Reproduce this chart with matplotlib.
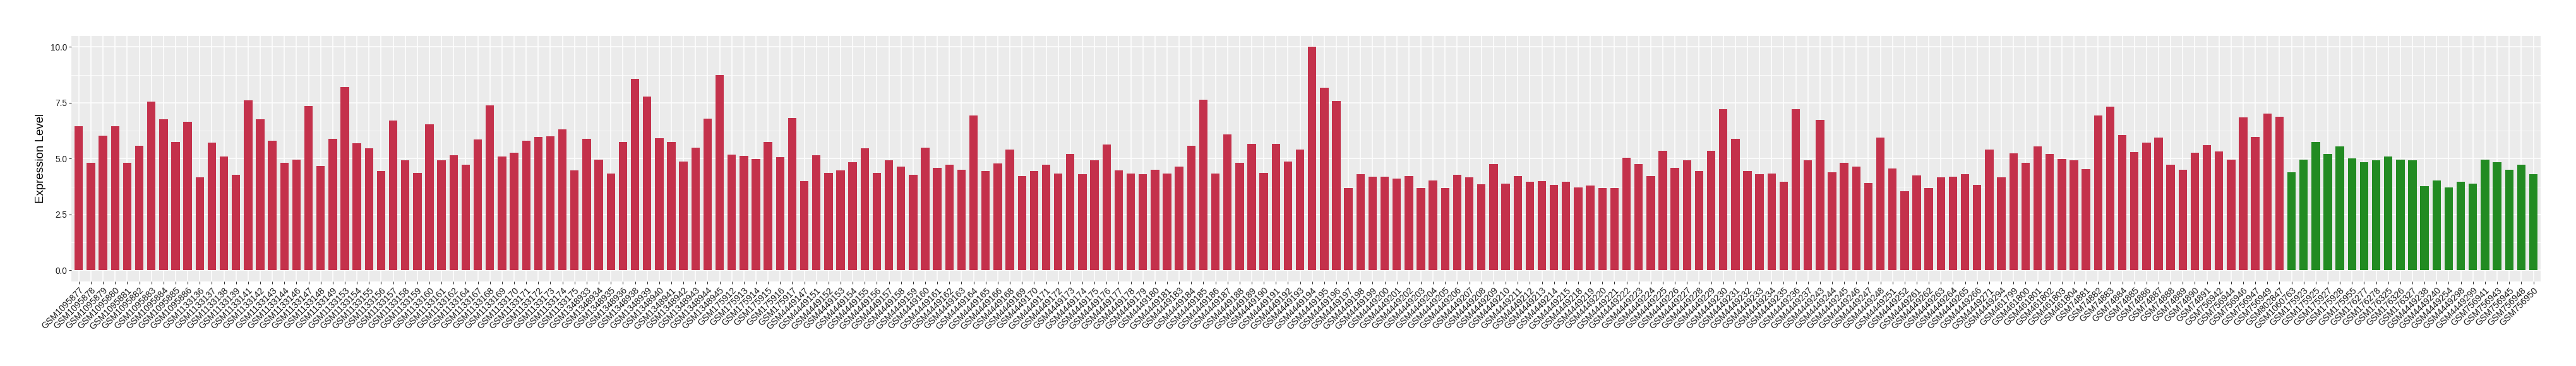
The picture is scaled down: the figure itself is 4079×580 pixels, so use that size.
import matplotlib
matplotlib.use("Agg")
import matplotlib.pyplot as plt
from matplotlib.ticker import FixedLocator

samples_tumor = [
    "GSM1095877", "GSM1095878", "GSM1095879", "GSM1095880", "GSM1095881", "GSM1095882",
    "GSM1095883", "GSM1095884", "GSM1095885", "GSM1095886", "GSM1133136", "GSM1133137",
    "GSM1133138", "GSM1133139", "GSM1133141", "GSM1133142", "GSM1133143", "GSM1133144",
    "GSM1133146", "GSM1133147", "GSM1133148", "GSM1133149", "GSM1133153", "GSM1133154",
    "GSM1133155", "GSM1133156", "GSM1133157", "GSM1133158", "GSM1133159", "GSM1133160",
    "GSM1133161", "GSM1133162", "GSM1133164", "GSM1133167", "GSM1133168", "GSM1133169",
    "GSM1133170", "GSM1133171", "GSM1133172", "GSM1133173", "GSM1133174", "GSM1133175",
    "GSM1348933", "GSM1348934", "GSM1348935", "GSM1348936", "GSM1348938", "GSM1348939",
    "GSM1348940", "GSM1348941", "GSM1348942", "GSM1348943", "GSM1348944", "GSM1348945",
    "GSM175912", "GSM175913", "GSM175914", "GSM175915", "GSM175916", "GSM175917",
    "GSM4449147", "GSM4449151", "GSM4449152", "GSM4449153", "GSM4449154", "GSM4449155",
    "GSM4449156", "GSM4449157", "GSM4449158", "GSM4449159", "GSM4449160", "GSM4449161",
    "GSM4449162", "GSM4449163", "GSM4449164", "GSM4449165", "GSM4449166", "GSM4449168",
    "GSM4449169", "GSM4449170", "GSM4449171", "GSM4449172", "GSM4449173", "GSM4449174",
    "GSM4449175", "GSM4449176", "GSM4449177", "GSM4449178", "GSM4449179", "GSM4449180",
    "GSM4449181", "GSM4449183", "GSM4449184", "GSM4449185", "GSM4449186", "GSM4449187",
    "GSM4449188", "GSM4449189", "GSM4449190", "GSM4449191", "GSM4449192", "GSM4449193",
    "GSM4449194", "GSM4449195", "GSM4449196", "GSM4449197", "GSM4449198", "GSM4449199",
    "GSM4449200", "GSM4449201", "GSM4449202", "GSM4449203", "GSM4449204", "GSM4449205",
    "GSM4449206", "GSM4449207", "GSM4449208", "GSM4449209", "GSM4449210", "GSM4449211",
    "GSM4449212", "GSM4449213", "GSM4449214", "GSM4449215", "GSM4449218", "GSM4449219",
    "GSM4449220", "GSM4449221", "GSM4449222", "GSM4449223", "GSM4449224", "GSM4449225",
    "GSM4449226", "GSM4449227", "GSM4449228", "GSM4449229", "GSM4449230", "GSM4449231",
    "GSM4449232", "GSM4449233", "GSM4449234", "GSM4449235", "GSM4449236", "GSM4449237",
    "GSM4449243", "GSM4449244", "GSM4449245", "GSM4449246", "GSM4449247", "GSM4449248",
    "GSM4449251", "GSM4449252", "GSM4449261", "GSM4449262", "GSM4449263", "GSM4449264",
    "GSM4449265", "GSM4449266", "GSM4449271", "GSM4449294", "GSM461799", "GSM461800",
    "GSM461801", "GSM461802", "GSM461803", "GSM461804", "GSM74881", "GSM74882",
    "GSM74883", "GSM74884", "GSM74885", "GSM74886", "GSM74887", "GSM74888",
    "GSM74889", "GSM74890", "GSM74891", "GSM756942", "GSM756944", "GSM756946",
    "GSM756947", "GSM756949", "GSM802847",
]

values_tumor = [
    6.45, 4.82, 6.03, 6.45, 4.82, 5.58, 7.55, 6.76, 5.75, 6.65, 4.15, 5.72,
    5.10, 4.28, 7.60, 6.76, 5.80, 4.82, 4.96, 7.35, 4.68, 5.89, 8.20, 5.69,
    5.47, 4.43, 6.71, 4.91, 4.36, 6.53, 4.91, 5.16, 4.73, 5.86, 7.39, 5.10,
    5.27, 5.80, 5.97, 6.00, 6.31, 4.48, 5.89, 4.96, 4.34, 5.75, 8.56, 7.77,
    5.92, 5.75, 4.88, 5.49, 6.79, 8.73, 5.19, 5.13, 4.99, 5.75, 5.07, 6.81,
    4.00, 5.16, 4.36, 4.48, 4.84, 5.47, 4.36, 4.91, 4.63, 4.28, 5.49, 4.59,
    4.73, 4.51, 6.93, 4.43, 4.79, 5.39, 4.23, 4.43, 4.73, 4.34, 5.21, 4.31,
    4.91, 5.64, 4.48, 4.34, 4.31, 4.51, 4.34, 4.63, 5.58, 7.64, 4.34, 6.08,
    4.82, 5.67, 4.36, 5.67, 4.88, 5.41, 10.00, 8.17, 7.57, 3.67, 4.31, 4.20,
    4.20, 4.11, 4.23, 3.67, 4.03, 3.69, 4.28, 4.15, 3.86, 4.76, 3.89, 4.23,
    3.97, 4.00, 3.83, 3.97, 3.72, 3.80, 3.69, 3.69, 5.04, 4.76, 4.23, 5.35,
    4.59, 4.91, 4.43, 5.35, 7.21, 5.89, 4.43, 4.31, 4.34, 3.97, 7.21, 4.93,
    6.73, 4.40, 4.82, 4.63, 3.92, 5.95, 4.56, 3.55, 4.25, 3.67, 4.17, 4.20,
    4.31, 3.83, 5.39, 4.17, 5.24, 4.82, 5.55, 5.21, 4.99, 4.93, 4.53, 6.93,
    7.32, 6.05, 5.29, 5.72, 5.95, 4.73, 4.51, 5.27, 5.60, 5.32, 4.96, 6.84,
    5.97, 7.01, 6.88,
]

samples_normal = [
    "GSM1060763", "GSM175923", "GSM175925", "GSM175927", "GSM175928", "GSM175955",
    "GSM176277", "GSM176278", "GSM176325", "GSM176326", "GSM176327", "GSM4449238",
    "GSM4449240", "GSM4449254", "GSM4449298", "GSM4449299", "GSM756941", "GSM756943",
    "GSM756945", "GSM756948", "GSM756950",
]

values_normal = [
    4.40, 4.96, 5.75, 5.21, 5.55, 5.01, 4.84, 4.91, 5.10, 4.96, 4.91, 3.77,
    4.03, 3.72, 3.95, 3.89, 4.96, 4.84, 4.51, 4.73, 4.31,
]

y_ticks = [0.0, 2.5, 5.0, 7.5, 10.0]
y_tick_labels = ["0.0", "2.5", "5.0", "7.5", "10.0"]
y_label = "Expression Level"

color_tumor = "#C4314B"
color_normal = "#228B22"

plt.rcParams["font.family"] = ["Liberation Sans", "DejaVu Sans"]

W, H = 4080, 580
fig = plt.figure(figsize=(W / 100, H / 100), dpi=100)
ax = fig.add_axes([113.3 / W, 1 - 446 / H, (4023 - 113.3) / W, (446 - 56.6) / H])

labels = samples_tumor + samples_normal
values = values_tumor + values_normal
colors = [color_tumor] * len(samples_tumor) + [color_normal] * len(samples_normal)
x = list(range(1, len(labels) + 1))

ax.set_facecolor("#EBEBEB")
ax.bar(x, values, width=0.7, color=colors, zorder=3, linewidth=0)

n = len(labels)
ax.set_xlim(0.4, n + 0.6)
ymax = max(values)
ax.set_ylim(-0.05 * ymax, 1.05 * ymax)

ax.set_xticks(x)
ax.set_xticklabels(labels, rotation=45, ha="right", va="top",
                   rotation_mode="anchor", fontsize=10.2, color="#1A1A1A")
ax.set_yticks(y_ticks)
ax.set_yticklabels(y_tick_labels, fontsize=9.8, color="#1A1A1A")
ax.yaxis.set_minor_locator(FixedLocator([1.25, 3.75, 6.25, 8.75]))

ax.grid(True, which="major", color="white", linewidth=1.1, zorder=1)
ax.grid(True, which="minor", axis="y", color="white", linewidth=0.55, zorder=1)
ax.set_axisbelow(True)

ax.tick_params(axis="both", which="major", length=3, width=0.8, color="#333333", pad=2)
ax.tick_params(axis="y", which="minor", length=0)
for s in ax.spines.values():
    s.set_visible(False)

ax.set_ylabel(y_label, fontsize=13.5, color="black", labelpad=5)

fig.savefig("out.png", dpi=100, facecolor="white")
